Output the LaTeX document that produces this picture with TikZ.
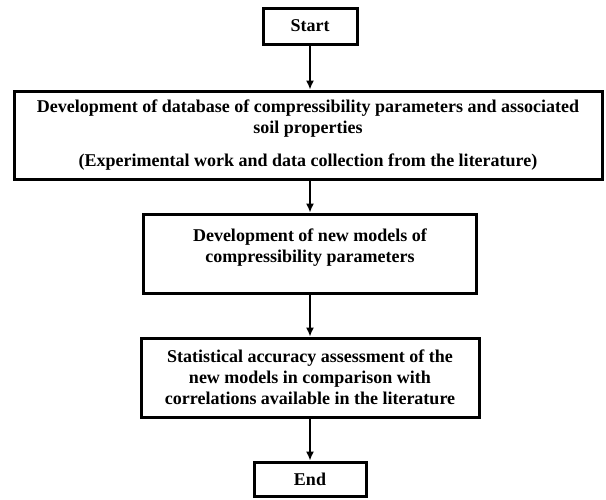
\documentclass[tikz,border=0pt]{standalone}
\usepackage{fontspec}
\setmainfont{Liberation Serif}
\usetikzlibrary{arrows.meta}

\begin{document}
\begin{tikzpicture}[x=1pt,y=-1pt,
    stagebox/.style={draw, line width=3pt, align=center, inner sep=0pt, font=\fontsize{18}{21}\selectfont\bfseries},
    flow/.style={line width=1.5pt, -{Latex[length=9pt,width=8pt]}}]
    \useasboundingbox (0,0) rectangle (606,499);

    \node[stagebox, minimum width=94pt, minimum height=36pt] (start) at (310,26) {Start};
    \node[stagebox, minimum width=588pt, minimum height=88pt] (dbase) at (308,135)
      {Development of database of compressibility parameters and associated\\ soil properties\\[12pt]
       (Experimental work and data collection from the literature)};
    \node[stagebox, minimum width=333pt, minimum height=79pt] (models) at (310,253.5)
      {Development of new models of\\ compressibility parameters\\[-11pt]\strut};
    \node[stagebox, minimum width=338pt, minimum height=79pt] (assess) at (310,377.5)
      {Statistical accuracy assessment of the\\ new models in comparison with\\ correlations available in the literature};
    \node[stagebox, minimum width=112pt, minimum height=34pt] (finish) at (310,479) {End};

    \draw[flow] (start) -- (start |- dbase.north);
    \draw[flow] (dbase.south -| models) -- (models);
    \draw[flow] (models) -- (assess);
    \draw[flow] (assess) -- (finish);
\end{tikzpicture}
\end{document}
